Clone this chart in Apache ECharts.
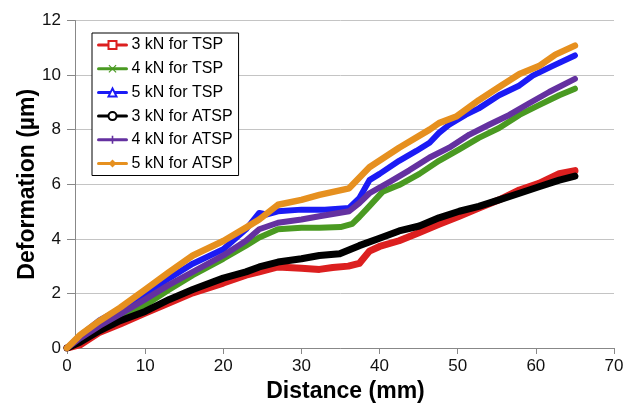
<!DOCTYPE html>
<html>
<head>
<meta charset="utf-8">
<script src="https://cdn.jsdelivr.net/npm/echarts@6/dist/echarts.min.js"></script>
<style>
  html, body { margin: 0; padding: 0; background: #fff; }
  #chart { width: 636px; height: 408px; }
</style>
</head>
<body>
<div id="chart"></div>
<script>
// Deformation (µm) versus sliding distance (mm) for TSP and ATSP at three loads
const seriesNames = ['3 kN for TSP', '4 kN for TSP', '5 kN for TSP',
                     '3 kN for ATSP', '4 kN for ATSP', '5 kN for ATSP'];

const tsp3Dist = [0, 1.7, 4.2, 6.8, 10, 13.1, 16.1, 20, 22.9, 24.6, 27, 30, 32.3, 34, 36, 37.4, 38.7, 40, 42.5, 45.1, 47.6, 50.2, 52.7, 55.3, 57.9, 60.4, 63, 65];
const tsp3Def  = [0, 0.12, 0.58, 0.88, 1.28, 1.66, 2.02, 2.38, 2.67, 2.79, 2.97, 2.92, 2.88, 2.95, 3.0, 3.1, 3.55, 3.72, 3.93, 4.23, 4.53, 4.83, 5.13, 5.43, 5.79, 6.03, 6.39, 6.5];

const tsp4Dist = [0, 1.7, 4.2, 6.8, 10, 13.1, 16.1, 20, 22.9, 24.6, 27, 30, 32.3, 35, 36.5, 37.4, 38.7, 40.4, 42.5, 45.1, 47.6, 50.2, 52.7, 55.3, 57.9, 60.4, 63, 65];
const tsp4Def  = [0, 0.30, 0.76, 1.12, 1.57, 2.14, 2.67, 3.27, 3.75, 4.05, 4.35, 4.41, 4.41, 4.43, 4.55, 4.8, 5.2, 5.73, 5.97, 6.38, 6.86, 7.28, 7.70, 8.06, 8.54, 8.90, 9.26, 9.5];

const tsp5Dist = [0, 1.7, 4.2, 6.8, 10, 13.1, 16.1, 20, 22.9, 24.6, 25.5, 27, 30, 33, 36.1, 37.4, 38.7, 40, 42.5, 44.7, 46.4, 47.6, 48.9, 51, 52.7, 55.3, 57.9, 59.6, 62.1, 65];
const tsp5Def  = [0, 0.45, 1.02, 1.42, 1.96, 2.56, 3.09, 3.62, 4.35, 4.95, 4.89, 5.01, 5.07, 5.07, 5.13, 5.49, 6.15, 6.38, 6.86, 7.22, 7.52, 7.88, 8.18, 8.54, 8.78, 9.26, 9.62, 9.98, 10.33, 10.72];

const atsp3Dist = [0, 1.7, 4.2, 6.8, 10, 13.1, 16.1, 20, 22.9, 24.6, 27, 30, 32.3, 34.9, 37.4, 40, 42.5, 45.1, 47.6, 50.2, 52.7, 55.3, 57.9, 60.4, 63, 65];
const atsp3Def  = [0, 0.22, 0.64, 1.0, 1.34, 1.78, 2.14, 2.56, 2.79, 2.97, 3.15, 3.27, 3.39, 3.45, 3.75, 4.02, 4.29, 4.47, 4.77, 5.01, 5.19, 5.43, 5.67, 5.91, 6.15, 6.3];

const atsp4Dist = [0, 1.7, 4.2, 6.8, 10, 13.1, 16.1, 20, 22.9, 24.6, 27, 30, 32.3, 36.1, 37.4, 38.7, 41.3, 43.8, 46.4, 48.9, 51.5, 54, 56.6, 59.1, 61.7, 65];
const atsp4Def  = [0, 0.36, 0.82, 1.24, 1.78, 2.32, 2.79, 3.39, 3.93, 4.35, 4.59, 4.71, 4.83, 5.01, 5.31, 5.67, 6.09, 6.51, 6.98, 7.34, 7.82, 8.18, 8.54, 8.96, 9.38, 9.86];

const atsp5Dist = [0, 1.7, 4.2, 6.8, 10, 13.1, 16.1, 20, 22.9, 24.6, 27, 30, 32.3, 36.1, 38.7, 42.5, 46.4, 47.6, 49.8, 52.7, 55.3, 57.9, 60.4, 62.5, 65];
const atsp5Def  = [0, 0.48, 1.0, 1.48, 2.14, 2.79, 3.39, 3.92, 4.41, 4.71, 5.25, 5.43, 5.61, 5.85, 6.62, 7.34, 8.0, 8.24, 8.48, 9.08, 9.56, 10.04, 10.33, 10.75, 11.08];

const xTicks = [0, 10, 20, 30, 40, 50, 60, 70];
const yTicks = [0, 2, 4, 6, 8, 10, 12];

const distances = [tsp3Dist, tsp4Dist, tsp5Dist, atsp3Dist, atsp4Dist, atsp5Dist];
const deformations = [tsp3Def, tsp4Def, tsp5Def, atsp3Def, atsp4Def, atsp5Def];

const colors = ['#dc1f1f', '#4a9a22', '#1b1bf5', '#000000', '#6431a0', '#e6901f'];
const markers = [
  'emptyRect',
  'path://M0,1L1,0L5,4L9,0L10,1L6,5L10,9L9,10L5,6L1,10L0,9L4,5Z',
  'emptyTriangle',
  'emptyCircle',
  'path://M4,0H6V4H10V6H6V10H4V6H0V4H4Z',
  'diamond'
];
const widths = [7, 6, 6, 7, 6, 6.5];

const FONT = '"Liberation Sans", Arial, sans-serif';

const series = seriesNames.map((name, i) => ({
  name,
  type: 'line',
  data: distances[i].map((d, k) => [d, deformations[i][k]]),
  symbol: markers[i],
  showSymbol: false,
  color: colors[i],
  lineStyle: { width: widths[i], color: colors[i], join: 'round', cap: 'round' },
  itemStyle: { color: colors[i] },
  emphasis: { disabled: true },
  z: 2 + i
}));

const chart = echarts.init(document.getElementById('chart'), null, { renderer: 'canvas' });
chart.setOption({
  animation: false,
  backgroundColor: '#ffffff',
  grid: { left: 67, right: 22, top: 20.5, bottom: 53.7 },
  legend: {
    orient: 'vertical',
    left: 92,
    top: 33,
    data: seriesNames,
    padding: [4, 6, 4, 5],
    itemWidth: 28,
    itemHeight: 10,
    itemGap: 7.7,
    backgroundColor: '#ffffff',
    borderColor: '#000000',
    borderWidth: 1,
    lineStyle: { width: 3 },
    textStyle: { fontFamily: FONT, fontSize: 16, color: '#000', lineHeight: 16 }
  },
  xAxis: {
    type: 'value',
    min: xTicks[0],
    max: xTicks[xTicks.length - 1],
    interval: xTicks[1] - xTicks[0],
    name: 'Distance (mm)',
    nameLocation: 'middle',
    nameGap: 32,
    nameMoveOverlap: false,
    nameTextStyle: { fontFamily: FONT, fontSize: 23, fontWeight: 'bold', color: '#000', padding: [0, 0, 0, 10] },
    axisLine: { show: true, onZero: false, lineStyle: { color: '#888888', width: 1 } },
    axisTick: { show: true, length: 6, lineStyle: { color: '#888888' } },
    axisLabel: { fontFamily: FONT, fontSize: 17, color: '#111', margin: 10 },
    splitLine: { show: false }
  },
  yAxis: {
    type: 'value',
    min: yTicks[0],
    max: yTicks[yTicks.length - 1],
    interval: yTicks[1] - yTicks[0],
    offset: -8,
    name: 'Deformation (µm)',
    nameLocation: 'middle',
    nameGap: 36,
    nameMoveOverlap: false,
    nameTextStyle: { fontFamily: FONT, fontSize: 23, fontWeight: 'bold', color: '#000' },
    axisLine: { show: true, lineStyle: { color: '#888888', width: 1 } },
    axisTick: { show: true, length: 8, lineStyle: { color: '#888888' } },
    axisLabel: { fontFamily: FONT, fontSize: 17, color: '#111', margin: 14 },
    splitLine: { show: true, lineStyle: { color: '#c4c4c4', width: 1 } }
  },
  series
});
</script>
</body>
</html>
